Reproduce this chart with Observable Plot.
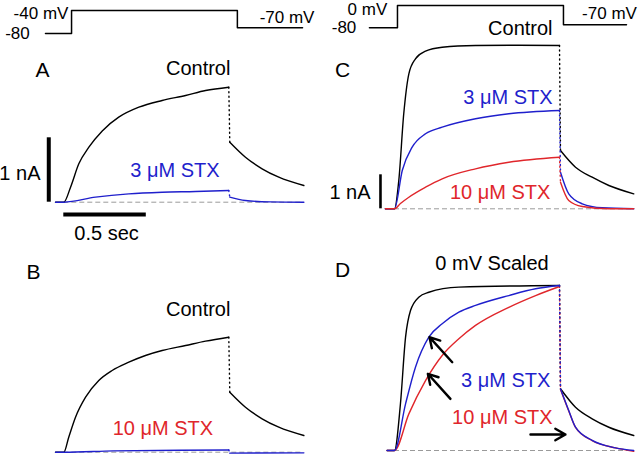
<!DOCTYPE html>
<html><head><meta charset="utf-8">
<script src="https://cdn.jsdelivr.net/npm/d3@7"></script>
<script src="https://cdn.jsdelivr.net/npm/@observablehq/plot@0.6"></script>
<style>
body{margin:0;background:#fff}
#fig{position:relative;width:640px;height:455px;overflow:hidden}
#fig svg{position:absolute}
</style>
</head><body><div id="fig"></div>
<script>
// ---- data: time (s from step onset), current (nA) or normalized current ----
const protoA = [[-0.111,-80],[0.047,-80],[0.047,-40],[1.052,-40],[1.052,-70],[1.447,-70]];
const protoC = [[-0.152,-80],[0.018,-80],[0.018,0],[1.024,0],[1.024,-70],[1.406,-70]];

const aControlStep = [[-0.05,0],[0,0],[0.041,0.233],[0.091,0.596],[0.152,0.854],[0.233,1.107],[0.333,1.32],[0.455,1.475],[0.596,1.579],[0.738,1.657],[0.859,1.734],[1.0,1.786]];
const aControlTail = [[1.006,0.932],[1.101,0.699],[1.202,0.519],[1.303,0.388],[1.455,0.259]];
const aStx3Step = [[-0.05,0],[0,0],[0.192,0.078],[0.394,0.13],[0.596,0.155],[0.798,0.166],[1.0,0.182]];
const aStx3Tail = [[1.006,0.078],[1.1,0.026],[1.25,0.005],[1.455,0]];

const bControlStep = [[-0.05,0],[0,0],[0.03,0.233],[0.071,0.543],[0.132,0.854],[0.212,1.113],[0.293,1.269],[0.394,1.398],[0.495,1.502],[0.596,1.579],[0.738,1.657],[0.859,1.724],[1.0,1.786]];
const bControlTail = [[1.006,0.932],[1.101,0.699],[1.202,0.519],[1.303,0.388],[1.455,0.259]];
const bStx10Step = [[-0.05,0],[0,0],[0.3,0.02],[0.7,0.03],[1.0,0.035]];
const bStx10Tail = [[1.006,-0.015],[1.455,-0.01]];

const cControlStep = [[-0.055,0],[0,0],[0.026,0.832],[0.056,2.794],[0.087,3.971],[0.127,4.412],[0.188,4.635],[0.289,4.753],[0.491,4.803],[0.75,4.81],[1.0,4.803]];
const cControlTail = [[1.006,1.715],[1.097,1.224],[1.198,0.929],[1.299,0.685],[1.45,0.441]];
const cStx3Step = [[-0.055,0],[0,0],[0.047,1.126],[0.107,1.812],[0.188,2.206],[0.289,2.4],[0.491,2.647],[0.693,2.794],[1.0,2.891]];
const cStx3Tail = [[1.006,1.076],[1.056,0.441],[1.138,0.147],[1.259,0.029],[1.45,0]];
const cStx10Step = [[-0.055,0],[0,0],[0.036,0.156],[0.087,0.341],[0.188,0.635],[0.289,0.882],[0.491,1.176],[0.693,1.371],[1.0,1.518]];
const cStx10Tail = [[1.006,0.782],[1.056,0.244],[1.138,0.068],[1.299,0],[1.45,0]];

const dControlStep = [[-0.045,0],[0,0],[0.036,0.283],[0.067,0.687],[0.097,0.848],[0.147,0.929],[0.208,0.959],[0.39,0.99],[1.0,1.0]];
const dControlTail = [[1.006,0.374],[1.097,0.262],[1.198,0.192],[1.299,0.141],[1.45,0.091]];
const dStx3Step = [[-0.045,0],[0,0],[0.067,0.283],[0.127,0.505],[0.208,0.687],[0.289,0.768],[0.39,0.838],[0.491,0.879],[0.693,0.939],[0.855,0.98],[1.0,1.0]];
const dStx3Tail = [[1.006,0.374],[1.056,0.242],[1.097,0.141],[1.198,0.061],[1.339,0.016],[1.45,0]];
const dStx10Step = [[-0.045,0],[0,0],[0.087,0.222],[0.188,0.424],[0.289,0.576],[0.39,0.677],[0.491,0.758],[0.693,0.868],[0.855,0.939],[1.0,0.994]];
const dStx10Tail = [[1.006,0.37],[1.056,0.24],[1.097,0.14],[1.198,0.06],[1.339,0.016],[1.45,-0.005]];

// annotation anchors in data units
const notesProtoA = [{text:"-40 mV",t:0.028,v:-45},{text:"-80",t:-0.281,v:-80},{text:"-70 mV",t:1.353,v:-52}];
const notesProtoC = [{text:"0 mV",t:-0.164,v:-14.5},{text:"-80",t:-0.306,v:-80},{text:"-70 mV",t:1.303,v:-29}];
const notesA = [{text:"A",t:-0.129,v:2.045},{text:"Control",t:1.01,v:2.076},{text:"3 μM STX",t:0.674,v:0.492},{text:"1 nA",t:-0.141,v:0.446},{text:"0.5 sec",t:0.259,v:-0.486}];
const notesB = [{text:"B",t:-0.184,v:2.79},{text:"Control",t:1.01,v:2.216},{text:"10 μM STX",t:0.601,v:0.368}];
const notesC = [{text:"C",t:-0.315,v:4.068},{text:"Control",t:0.958,v:5.303},{text:"3 μM STX",t:0.958,v:3.274},{text:"10 μM STX",t:0.945,v:0.479},{text:"1 nA",t:-0.145,v:0.479}];
const notesD = [{text:"D",t:-0.315,v:1.091},{text:"0 mV Scaled",t:0.591,v:1.133},{text:"3 μM STX",t:0.945,v:0.424},{text:"10 μM STX",t:0.958,v:0.2}];
const arrowsD = [{t1:0.35,v1:0.535,t2:0.212,v2:0.687},{t1:0.339,v1:0.313,t2:0.202,v2:0.465},{t1:0.824,v1:0.097,t2:1.036,v2:0.097}];
const scaleBarA = {t:-0.091, nA:1, t0:0, sec:0.5, level:-0.191};
const scaleBarC = {t:-0.085, nA:1};
const baselineEnd = 1.45;

// ---- styling ----
const FONT = "'Liberation Sans', Arial, Helvetica, sans-serif";
const BLACK = "#000", BLUE = "#1f1fcc", RED = "#e0262b", GRAY = "#9a9a9a";
const xAB = [-0.3836, 1.5558], xCD = [-0.4485, 1.4909];

const fig = document.getElementById("fig");
function place(svg, left, top){ svg.style.left = left+"px"; svg.style.top = top+"px"; fig.appendChild(svg); }
const X = d => d[0], Y = d => d[1];

function trace(step, tail, color){
  return [
    Plot.line(step, {x:X, y:Y, stroke:color, strokeWidth:1.4, curve:"monotone-x"}),
    Plot.line([step[step.length-1], tail[0]], {x:X, y:Y, stroke:color, strokeWidth:1.4, strokeDasharray:"1,3.5"}),
    Plot.line(tail, {x:X, y:Y, stroke:color, strokeWidth:1.4, curve:"monotone-x"})
  ];
}
function note(n, opts){ return Plot.text([n], {x:"t", y:"v", text:"text", fontSize:20, fill:BLACK, ...opts}); }
function panel(left, top, height, xd, yd, marks){
  const svg = Plot.plot({
    width:320, height, margin:0,
    x:{domain:xd, axis:null},
    y:{domain:yd, axis:null},
    style:{background:"transparent", overflow:"visible", fontFamily:FONT},
    marks
  });
  place(svg, left, top);
}
const dashBase = Plot.ruleY([0], {x1:0, x2:baselineEnd, stroke:GRAY, strokeWidth:1, strokeDasharray:"5,3"});

// protocols (linear mV scales)
panel(0, 0, 45, xAB, [-100.87, -22.6], [
  Plot.line(protoA, {x:X, y:Y, stroke:BLACK, strokeWidth:1.5}),
  note(notesProtoA[0], {textAnchor:"end", fontSize:17}),
  note(notesProtoA[1], {fontSize:17}),
  note(notesProtoA[2], {fontSize:17})
]);
panel(320, 0, 45, xCD, [-144.7, 18.2], [
  Plot.line(protoC, {x:X, y:Y, stroke:BLACK, strokeWidth:1.5}),
  note(notesProtoC[0], {fontSize:17}),
  note(notesProtoC[1], {fontSize:17}),
  note(notesProtoC[2], {fontSize:17})
]);

// A
panel(0, 0, 240, xAB, [-0.5947, 3.132], [
  dashBase,
  ...trace(aControlStep, aControlTail, BLACK),
  ...trace(aStx3Step, aStx3Tail, BLUE),
  Plot.ruleX([scaleBarA.t], {y1:0, y2:scaleBarA.nA, stroke:BLACK, strokeWidth:4}),
  Plot.ruleY([scaleBarA.level], {x1:scaleBarA.t0, x2:scaleBarA.t0+scaleBarA.sec, stroke:BLACK, strokeWidth:4}),
  note(notesA[0], {fontSize:21}),
  note(notesA[1], {textAnchor:"end"}),
  note(notesA[2], {fill:BLUE}),
  note(notesA[3], {textAnchor:"end"}),
  note(notesA[4], {})
]);
// B
panel(0, 240, 215, xAB, [-0.0512, 3.287], [
  dashBase,
  ...trace(bControlStep, bControlTail, BLACK),
  ...trace(bStx10Step, bStx10Tail, BLUE),
  note(notesB[0], {fontSize:21}),
  note(notesB[1], {textAnchor:"end"}),
  note(notesB[2], {fill:RED})
]);
// C
panel(320, 0, 240, xCD, [-0.932, 6.126], [
  dashBase,
  ...trace(cControlStep, cControlTail, BLACK),
  ...trace(cStx3Step, cStx3Tail, BLUE),
  ...trace(cStx10Step, cStx10Tail, RED),
  Plot.ruleX([scaleBarC.t], {y1:0, y2:scaleBarC.nA, stroke:BLACK, strokeWidth:2.6}),
  note(notesC[0], {fontSize:21}),
  note(notesC[1], {textAnchor:"end"}),
  note(notesC[2], {textAnchor:"end", fill:BLUE}),
  note(notesC[3], {textAnchor:"end", fill:RED}),
  note(notesC[4], {textAnchor:"end"})
]);
// D
panel(320, 240, 215, xCD, [-0.0303, 1.2727], [
  dashBase,
  ...trace(dControlStep, dControlTail, BLACK),
  ...trace(dStx10Step, dStx10Tail, RED),
  ...trace(dStx3Step, dStx3Tail, BLUE),
  Plot.arrow(arrowsD, {x1:"t1", y1:"v1", x2:"t2", y2:"v2", stroke:BLACK, strokeWidth:2.4, headLength:11}),
  note(notesD[0], {fontSize:21}),
  note(notesD[1], {}),
  note(notesD[2], {textAnchor:"end", fill:BLUE}),
  note(notesD[3], {textAnchor:"end", fill:RED})
]);
</script></body></html>
